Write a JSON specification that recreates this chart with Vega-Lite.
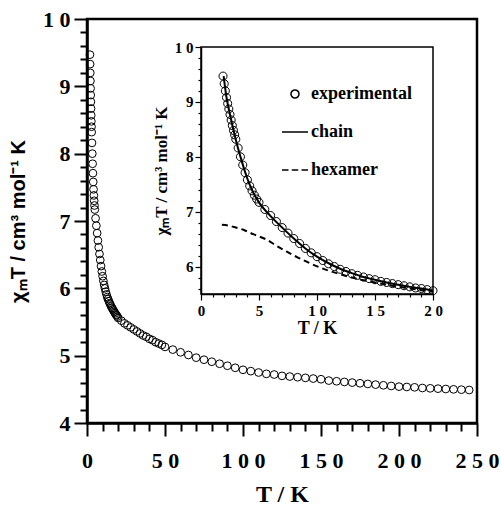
{
  "$schema": "https://vega.github.io/schema/vega-lite/v6.json",
  "width": 390,
  "height": 404,
  "autosize": {"type": "none"},
  "padding": {"left": 87, "top": 19, "right": 24, "bottom": 83},
  "background": "white",
  "config": {
    "view": {"stroke": "black", "strokeWidth": 2.5},
    "axis": {"grid": false, "domainColor": "black", "tickColor": "black", "labelColor": "black", "titleColor": "black", "labelOverlap": false, "labelFlush": false},
    "legend": {"symbolStrokeColor": "black", "symbolFillColor": "transparent"}
  },
  "datasets": {
    "exp": [
      {"T": 1.9, "v": 9.47, "s": "experimental"},
      {"T": 2.0, "v": 9.33, "s": "experimental"},
      {"T": 2.1, "v": 9.20, "s": "experimental"},
      {"T": 2.2, "v": 9.08, "s": "experimental"},
      {"T": 2.3, "v": 8.97, "s": "experimental"},
      {"T": 2.4, "v": 8.87, "s": "experimental"},
      {"T": 2.5, "v": 8.77, "s": "experimental"},
      {"T": 2.6, "v": 8.67, "s": "experimental"},
      {"T": 2.7, "v": 8.57, "s": "experimental"},
      {"T": 2.8, "v": 8.48, "s": "experimental"},
      {"T": 2.9, "v": 8.40, "s": "experimental"},
      {"T": 3.0, "v": 8.32, "s": "experimental"},
      {"T": 3.2, "v": 8.16, "s": "experimental"},
      {"T": 3.4, "v": 8.00, "s": "experimental"},
      {"T": 3.6, "v": 7.85, "s": "experimental"},
      {"T": 3.8, "v": 7.71, "s": "experimental"},
      {"T": 4.0, "v": 7.58, "s": "experimental"},
      {"T": 4.2, "v": 7.47, "s": "experimental"},
      {"T": 4.4, "v": 7.38, "s": "experimental"},
      {"T": 4.6, "v": 7.30, "s": "experimental"},
      {"T": 4.8, "v": 7.23, "s": "experimental"},
      {"T": 5.0, "v": 7.17, "s": "experimental"},
      {"T": 5.5, "v": 7.04, "s": "experimental"},
      {"T": 6.0, "v": 6.93, "s": "experimental"},
      {"T": 6.5, "v": 6.82, "s": "experimental"},
      {"T": 7.0, "v": 6.71, "s": "experimental"},
      {"T": 7.5, "v": 6.61, "s": "experimental"},
      {"T": 8.0, "v": 6.51, "s": "experimental"},
      {"T": 8.5, "v": 6.42, "s": "experimental"},
      {"T": 9.0, "v": 6.33, "s": "experimental"},
      {"T": 9.5, "v": 6.25, "s": "experimental"},
      {"T": 10.0, "v": 6.18, "s": "experimental"},
      {"T": 10.5, "v": 6.11, "s": "experimental"},
      {"T": 11.0, "v": 6.05, "s": "experimental"},
      {"T": 11.5, "v": 6.00, "s": "experimental"},
      {"T": 12.0, "v": 5.95, "s": "experimental"},
      {"T": 12.5, "v": 5.91, "s": "experimental"},
      {"T": 13.0, "v": 5.87, "s": "experimental"},
      {"T": 13.5, "v": 5.84, "s": "experimental"},
      {"T": 14.0, "v": 5.81, "s": "experimental"},
      {"T": 14.5, "v": 5.78, "s": "experimental"},
      {"T": 15.0, "v": 5.76, "s": "experimental"},
      {"T": 15.5, "v": 5.73, "s": "experimental"},
      {"T": 16.0, "v": 5.71, "s": "experimental"},
      {"T": 16.5, "v": 5.69, "s": "experimental"},
      {"T": 17.0, "v": 5.67, "s": "experimental"},
      {"T": 17.5, "v": 5.65, "s": "experimental"},
      {"T": 18.0, "v": 5.63, "s": "experimental"},
      {"T": 18.5, "v": 5.61, "s": "experimental"},
      {"T": 19.0, "v": 5.60, "s": "experimental"},
      {"T": 19.5, "v": 5.58, "s": "experimental"},
      {"T": 20.0, "v": 5.56, "s": "experimental"},
      {"T": 22, "v": 5.52, "s": "experimental"},
      {"T": 24, "v": 5.48, "s": "experimental"},
      {"T": 26, "v": 5.45, "s": "experimental"},
      {"T": 28, "v": 5.42, "s": "experimental"},
      {"T": 30, "v": 5.39, "s": "experimental"},
      {"T": 32, "v": 5.36, "s": "experimental"},
      {"T": 34, "v": 5.33, "s": "experimental"},
      {"T": 36, "v": 5.30, "s": "experimental"},
      {"T": 38, "v": 5.28, "s": "experimental"},
      {"T": 40, "v": 5.25, "s": "experimental"},
      {"T": 42, "v": 5.23, "s": "experimental"},
      {"T": 44, "v": 5.20, "s": "experimental"},
      {"T": 46, "v": 5.18, "s": "experimental"},
      {"T": 48, "v": 5.16, "s": "experimental"},
      {"T": 50, "v": 5.13, "s": "experimental"},
      {"T": 55, "v": 5.09, "s": "experimental"},
      {"T": 60, "v": 5.05, "s": "experimental"},
      {"T": 65, "v": 5.01, "s": "experimental"},
      {"T": 70, "v": 4.97, "s": "experimental"},
      {"T": 75, "v": 4.94, "s": "experimental"},
      {"T": 80, "v": 4.91, "s": "experimental"},
      {"T": 85, "v": 4.88, "s": "experimental"},
      {"T": 90, "v": 4.85, "s": "experimental"},
      {"T": 95, "v": 4.82, "s": "experimental"},
      {"T": 100, "v": 4.79, "s": "experimental"},
      {"T": 105, "v": 4.77, "s": "experimental"},
      {"T": 110, "v": 4.75, "s": "experimental"},
      {"T": 115, "v": 4.73, "s": "experimental"},
      {"T": 120, "v": 4.72, "s": "experimental"},
      {"T": 125, "v": 4.70, "s": "experimental"},
      {"T": 130, "v": 4.69, "s": "experimental"},
      {"T": 135, "v": 4.68, "s": "experimental"},
      {"T": 140, "v": 4.67, "s": "experimental"},
      {"T": 145, "v": 4.66, "s": "experimental"},
      {"T": 150, "v": 4.65, "s": "experimental"},
      {"T": 155, "v": 4.63, "s": "experimental"},
      {"T": 160, "v": 4.62, "s": "experimental"},
      {"T": 165, "v": 4.61, "s": "experimental"},
      {"T": 170, "v": 4.60, "s": "experimental"},
      {"T": 175, "v": 4.59, "s": "experimental"},
      {"T": 180, "v": 4.58, "s": "experimental"},
      {"T": 185, "v": 4.57, "s": "experimental"},
      {"T": 190, "v": 4.56, "s": "experimental"},
      {"T": 195, "v": 4.55, "s": "experimental"},
      {"T": 200, "v": 4.54, "s": "experimental"},
      {"T": 205, "v": 4.535, "s": "experimental"},
      {"T": 210, "v": 4.53, "s": "experimental"},
      {"T": 215, "v": 4.52, "s": "experimental"},
      {"T": 220, "v": 4.515, "s": "experimental"},
      {"T": 225, "v": 4.51, "s": "experimental"},
      {"T": 230, "v": 4.505, "s": "experimental"},
      {"T": 235, "v": 4.50, "s": "experimental"},
      {"T": 240, "v": 4.495, "s": "experimental"},
      {"T": 245, "v": 4.49, "s": "experimental"}
    ],
    "chain": [
      {"T": 1.95, "v": 9.47}, {"T": 2.2, "v": 9.08}, {"T": 2.5, "v": 8.77}, {"T": 3.0, "v": 8.31},
      {"T": 3.5, "v": 7.93}, {"T": 4.0, "v": 7.60}, {"T": 4.5, "v": 7.35}, {"T": 5.0, "v": 7.17},
      {"T": 6.0, "v": 6.92}, {"T": 7.0, "v": 6.71}, {"T": 8.0, "v": 6.51}, {"T": 9.0, "v": 6.33},
      {"T": 10.0, "v": 6.18}, {"T": 11.0, "v": 6.06}, {"T": 12.0, "v": 5.96}, {"T": 13.0, "v": 5.88},
      {"T": 14.0, "v": 5.81}, {"T": 15.0, "v": 5.76}, {"T": 16.0, "v": 5.71}, {"T": 17.0, "v": 5.67},
      {"T": 18.0, "v": 5.63}, {"T": 19.0, "v": 5.60}, {"T": 20.0, "v": 5.56}
    ],
    "hex": [
      {"T": 1.8, "v": 6.76}, {"T": 2.5, "v": 6.74}, {"T": 3.0, "v": 6.71}, {"T": 3.65, "v": 6.67},
      {"T": 4.5, "v": 6.59}, {"T": 5.66, "v": 6.49}, {"T": 6.5, "v": 6.38}, {"T": 7.4, "v": 6.27},
      {"T": 8.4, "v": 6.16}, {"T": 9.4, "v": 6.06}, {"T": 10.8, "v": 5.94}, {"T": 12.0, "v": 5.86},
      {"T": 13.0, "v": 5.80}, {"T": 14.0, "v": 5.75}, {"T": 15.0, "v": 5.71}, {"T": 16.0, "v": 5.67},
      {"T": 17.0, "v": 5.63}, {"T": 18.0, "v": 5.60}, {"T": 19.0, "v": 5.57}, {"T": 20.0, "v": 5.54}
    ]
  },
  "layer": [
    {
      "data": {"name": "exp"},
      "mark": {"type": "point", "shape": "circle", "size": 60, "filled": false, "color": "black", "strokeWidth": 1, "opacity": 1},
      "encoding": {
        "x": {
          "field": "T", "type": "quantitative",
          "scale": {"domain": [0, 250], "nice": false, "zero": false},
          "axis": {
            "orient": "bottom",
            "values": [0,10,20,30,40,50,60,70,80,90,100,110,120,130,140,150,160,170,180,190,200,210,220,230,240,250],
            "title": "T / K", "titleFont": "Liberation Serif", "titleFontSize": 24, "titleFontWeight": "bold", "titlePadding": 11,
            "labelFont": "Liberation Serif", "labelFontSize": 22, "labelFontWeight": "bold", "labelPadding": 14,
            "labelExpr": "abs(datum.value/50-round(datum.value/50))<0.001 ? join(split(format(datum.value,'d'),''),' ') : ''",
            "tickSize": {"condition": {"test": "abs(datum.value/50-round(datum.value/50))<0.001", "value": 13}, "value": 8},
            "tickWidth": 2, "domainWidth": 2.5
          }
        },
        "y": {
          "field": "v", "type": "quantitative",
          "scale": {"domain": [4, 10], "nice": false, "zero": false},
          "axis": {
            "orient": "left",
            "values": [4,4.2,4.4,4.6,4.8,5,5.2,5.4,5.6,5.8,6,6.2,6.4,6.6,6.8,7,7.2,7.4,7.6,7.8,8,8.2,8.4,8.6,8.8,9,9.2,9.4,9.6,9.8,10],
            "title": "χₘT / cm³ mol⁻¹ K", "titleFont": "Liberation Sans", "titleFontSize": 20, "titleFontWeight": "bold", "titlePadding": 14,
            "labelFont": "Liberation Serif", "labelFontSize": 22, "labelFontWeight": "bold", "labelPadding": 4,
            "labelExpr": "abs(datum.value-round(datum.value))<0.001 ? join(split(format(datum.value,'d'),''),' ') : ''",
            "tickSize": {"condition": {"test": "abs(datum.value-round(datum.value))<0.001", "value": 13}, "value": 7},
            "tickWidth": 2, "domainWidth": 2.5
          }
        }
      }
    },
    {
      "data": {"values": [{}]},
      "mark": {"type": "rect", "fill": "white", "fillOpacity": 0, "stroke": "black", "strokeWidth": 1.5},
      "encoding": {
        "x": {"datum": 0, "type": "quantitative", "scale": {"domain": [0, 20], "range": [114, 346], "nice": false, "zero": false}, "axis": null},
        "x2": {"datum": 20},
        "y": {"datum": 5.5, "type": "quantitative", "scale": {"domain": [5.5, 10], "range": [275, 28], "nice": false, "zero": false}, "axis": null},
        "y2": {"datum": 10}
      }
    },
    {
      "data": {"name": "hex"},
      "mark": {"type": "line", "color": "black", "strokeWidth": 2, "strokeDash": [6, 4], "interpolate": "monotone"},
      "encoding": {
        "x": {"field": "T", "type": "quantitative", "scale": {"domain": [0, 20], "range": [114, 346], "nice": false, "zero": false}, "axis": null},
        "y": {"field": "v", "type": "quantitative", "scale": {"domain": [5.5, 10], "range": [275, 28], "nice": false, "zero": false}, "axis": null}
      }
    },
    {
      "data": {"name": "chain"},
      "mark": {"type": "line", "color": "black", "strokeWidth": 2, "interpolate": "monotone"},
      "encoding": {
        "x": {"field": "T", "type": "quantitative", "scale": {"domain": [0, 20], "range": [114, 346], "nice": false, "zero": false}, "axis": null},
        "y": {"field": "v", "type": "quantitative", "scale": {"domain": [5.5, 10], "range": [275, 28], "nice": false, "zero": false}, "axis": null}
      }
    },
    {
      "data": {"name": "exp"},
      "transform": [{"filter": "datum.T <= 20.01"}],
      "mark": {"type": "point", "size": 676, "filled": false, "color": "black", "strokeWidth": 1, "opacity": 1},
      "encoding": {
        "x": {
          "field": "T", "type": "quantitative",
          "scale": {"domain": [0, 20], "range": [114, 346], "nice": false, "zero": false},
          "axis": {
            "orient": "bottom", "offset": -129,
            "values": [0,1,2,3,4,5,6,7,8,9,10,11,12,13,14,15,16,17,18,19,20],
            "title": "T / K", "titleFont": "Liberation Serif", "titleFontSize": 18, "titleFontWeight": "bold", "titlePadding": 1,
            "labelFont": "Liberation Serif", "labelFontSize": 15, "labelFontWeight": "bold", "labelPadding": 3,
            "labelExpr": "abs(datum.value/5-round(datum.value/5))<0.001 ? join(split(format(datum.value,'d'),''),' ') : ''",
            "tickSize": {"condition": {"test": "abs(datum.value/5-round(datum.value/5))<0.001", "value": 6}, "value": 3},
            "tickWidth": 1.2, "domainWidth": 1.5
          }
        },
        "y": {
          "field": "v", "type": "quantitative",
          "scale": {"domain": [5.5, 10], "range": [275, 28], "nice": false, "zero": false},
          "axis": {
            "orient": "left", "offset": -114,
            "values": [5.6,5.8,6,6.2,6.4,6.6,6.8,7,7.2,7.4,7.6,7.8,8,8.2,8.4,8.6,8.8,9,9.2,9.4,9.6,9.8,10],
            "title": "χₘT / cm³ mol⁻¹ K", "titleFont": "Liberation Serif", "titleFontSize": 17, "titleFontWeight": "bold", "titlePadding": 4,
            "labelFont": "Liberation Serif", "labelFontSize": 15, "labelFontWeight": "bold", "labelPadding": 2,
            "labelExpr": "abs(datum.value-round(datum.value))<0.001 ? join(split(format(datum.value,'d'),''),' ') : ''",
            "tickSize": {"condition": {"test": "abs(datum.value-round(datum.value))<0.001", "value": 6}, "value": 3},
            "tickWidth": 1.2, "domainWidth": 1.5
          }
        },
        "shape": {
          "field": "s", "type": "nominal",
          "scale": {
            "domain": ["experimental", "chain", "hexamer"],
            "range": [
              "M-0.31,0A0.31,0.31,0,1,0,0.31,0A0.31,0.31,0,1,0,-0.31,0Z",
              "M-1,0H1",
              "M-1,0H-0.5M-0.25,0H0.25M0.5,0H1"
            ]
          },
          "legend": {
            "orient": "none", "legendX": 194, "legendY": 61, "title": null, "padding": 0,
            "symbolSize": 676, "symbolStrokeWidth": 1.5, "symbolStrokeColor": "black", "symbolFillColor": "transparent",
            "labelFont": "Liberation Serif", "labelFontSize": 18, "labelFontWeight": "bold", "labelColor": "black",
            "labelOffset": 2, "rowPadding": 15
          }
        }
      }
    }
  ],
  "resolve": {
    "scale": {"x": "independent", "y": "independent"},
    "axis": {"x": "independent", "y": "independent"}
  }
}
